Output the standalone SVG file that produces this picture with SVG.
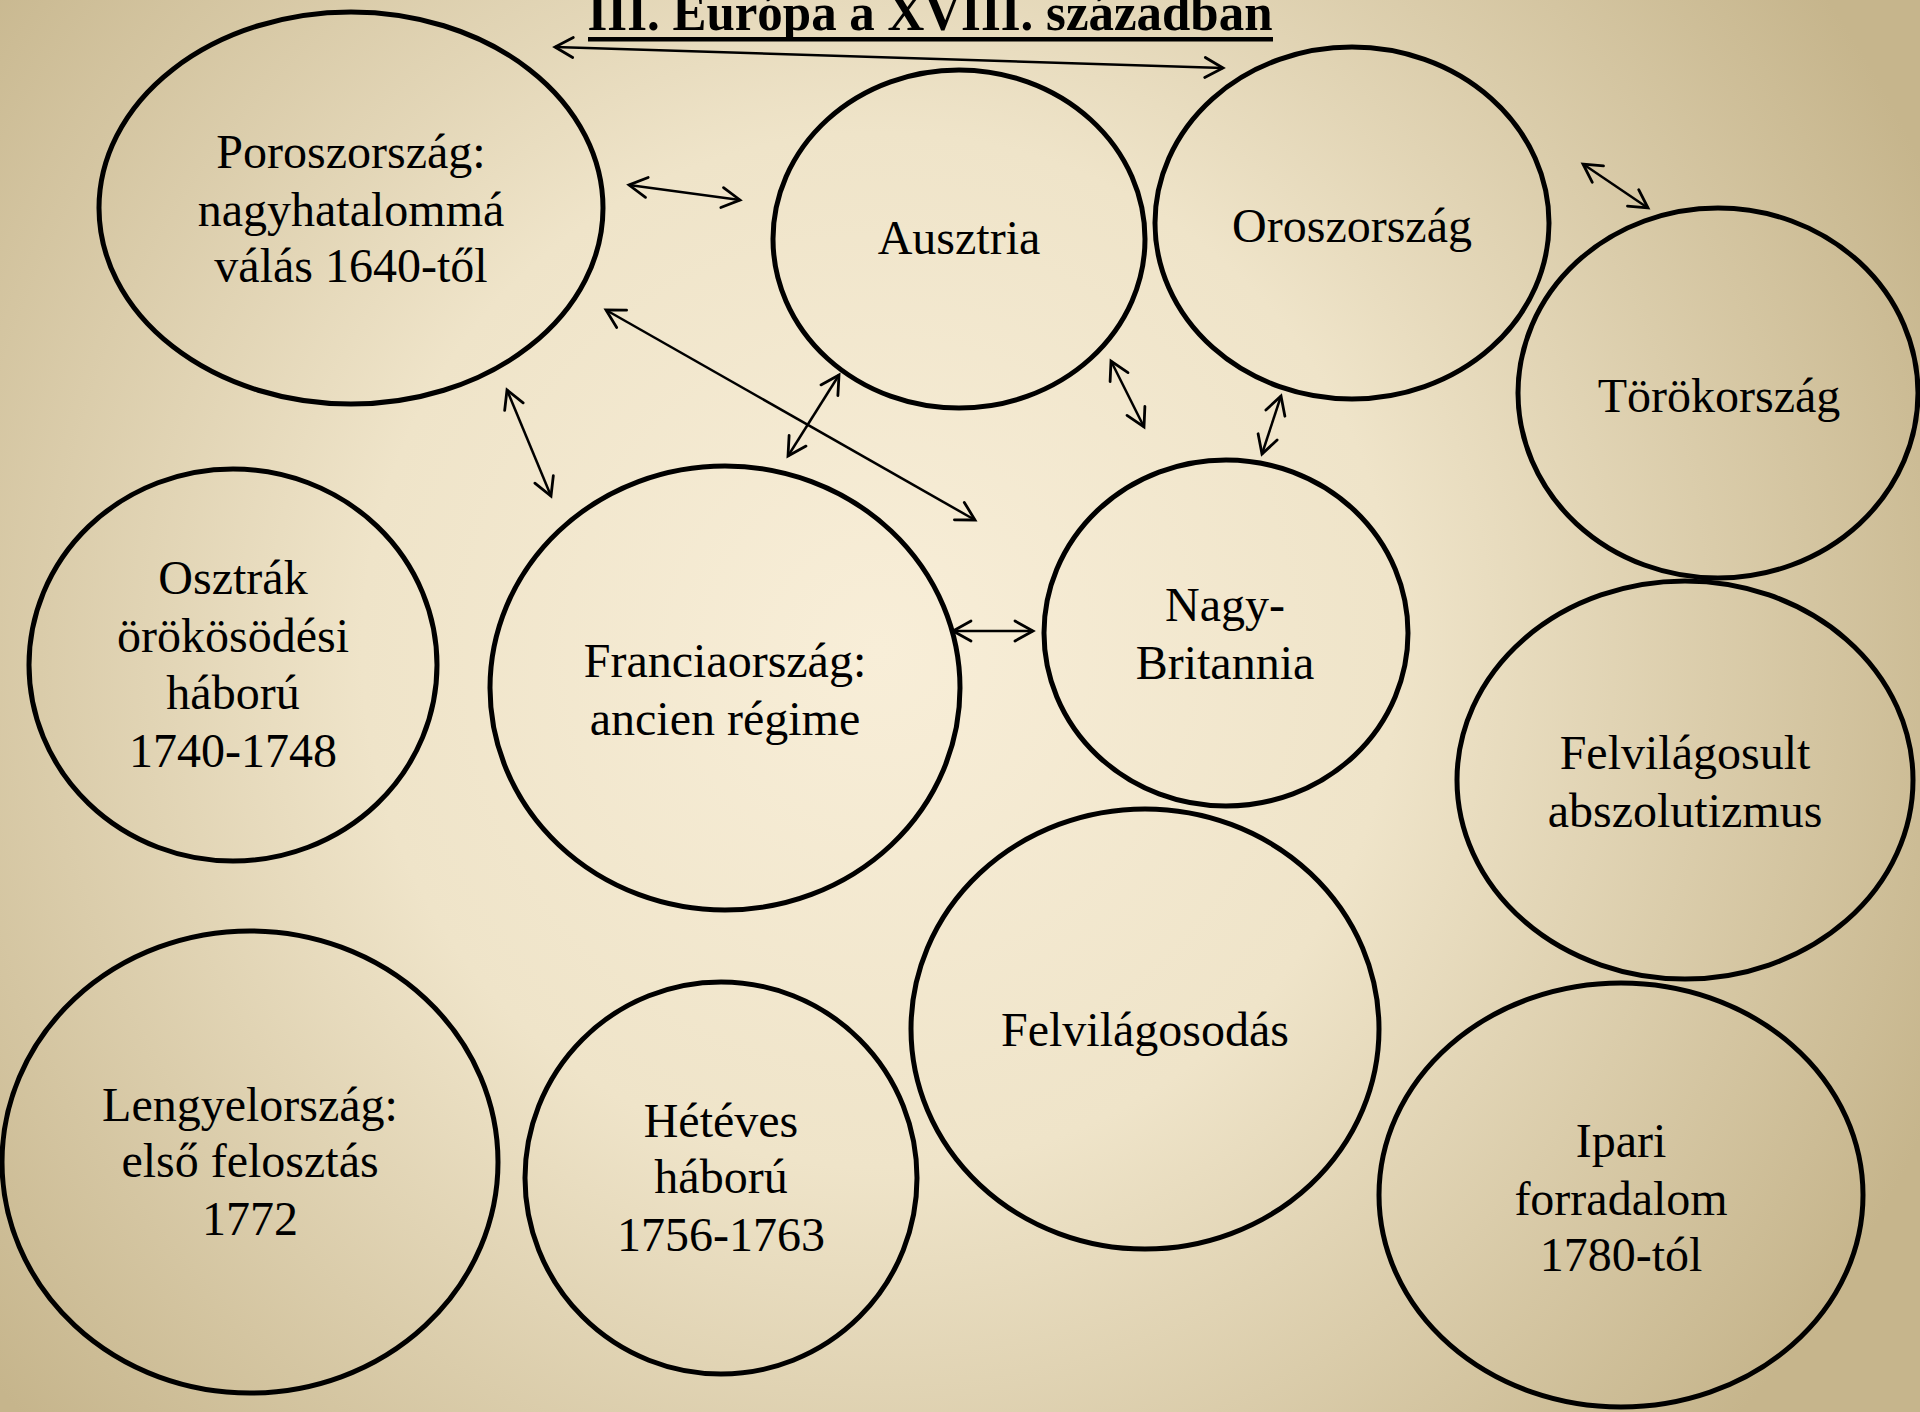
<svg xmlns="http://www.w3.org/2000/svg" width="1920" height="1412" viewBox="0 0 1920 1412">
<defs>
<radialGradient id="bg" gradientUnits="userSpaceOnUse" cx="880" cy="650" r="1150">
<stop offset="0" stop-color="#f8eed8"/>
<stop offset="0.45" stop-color="#efe4c9"/>
<stop offset="1" stop-color="#c6b58c"/>
</radialGradient>
<marker id="ah" markerUnits="userSpaceOnUse" viewBox="-22 -12 24 24" markerWidth="24" markerHeight="24" refX="0" refY="0" orient="auto-start-reverse" overflow="visible">
<path d="M-18,-10 L0,0 L-18,10" fill="none" stroke="#000" stroke-width="2.8" stroke-linecap="round" stroke-linejoin="miter"/>
</marker>
<style>
.n{fill:none;stroke:#000;stroke-width:5}
.t{font-family:"Liberation Serif","Times New Roman",serif;font-size:48px;fill:#000;text-anchor:middle}
.c{stroke:#000;stroke-width:2.5;fill:none;marker-start:url(#ah);marker-end:url(#ah)}
</style>
</defs>
<rect x="0" y="0" width="1920" height="1412" fill="url(#bg)"/>
<g id="title">
<text x="930" y="30" font-family="Liberation Serif, Times New Roman, serif" font-size="52" font-weight="bold" text-anchor="middle" textLength="685" lengthAdjust="spacingAndGlyphs">III. Európa a XVIII. században</text>
<rect x="588" y="37" width="685" height="4.5" fill="#000"/>
</g>
<g id="connectors">
<line class="c" x1="555" y1="47" x2="1223" y2="68"/>
<line class="c" x1="629" y1="185" x2="740" y2="200"/>
<line class="c" x1="507" y1="390" x2="551" y2="496"/>
<line class="c" x1="606" y1="310" x2="975" y2="520"/>
<line class="c" x1="839" y1="375" x2="788" y2="456"/>
<line class="c" x1="1111" y1="361" x2="1144" y2="427"/>
<line class="c" x1="1281" y1="396" x2="1262" y2="454"/>
<line class="c" x1="1583" y1="164" x2="1648" y2="208"/>
<line class="c" x1="953" y1="631" x2="1033" y2="631"/>
</g>
<g id="poroszorszag">
<ellipse class="n" cx="351" cy="208" rx="252" ry="196"/>
<text class="t" x="351" y="168">Poroszország:</text>
<text class="t" x="351" y="226">nagyhatalommá</text>
<text class="t" x="351" y="282">válás 1640-től</text>
</g>
<g id="ausztria">
<ellipse class="n" cx="959" cy="239" rx="186" ry="169"/>
<text class="t" x="959" y="254">Ausztria</text>
</g>
<g id="oroszorszag">
<ellipse class="n" cx="1352" cy="223" rx="197" ry="176"/>
<text class="t" x="1352" y="242">Oroszország</text>
</g>
<g id="torokorszag">
<ellipse class="n" cx="1718" cy="393" rx="200" ry="185"/>
<text class="t" x="1719" y="412">Törökország</text>
</g>
<g id="osztrak">
<ellipse class="n" cx="233" cy="665" rx="204" ry="196"/>
<text class="t" x="233" y="594">Osztrák</text>
<text class="t" x="233" y="652">örökösödési</text>
<text class="t" x="233" y="709">háború</text>
<text class="t" x="233" y="767">1740-1748</text>
</g>
<g id="franciaorszag">
<ellipse class="n" cx="725" cy="688" rx="235" ry="222"/>
<text class="t" x="725" y="677">Franciaország:</text>
<text class="t" x="725" y="735">ancien régime</text>
</g>
<g id="nagybritannia">
<ellipse class="n" cx="1226" cy="633" rx="182" ry="173"/>
<text class="t" x="1225" y="621">Nagy-</text>
<text class="t" x="1225" y="679">Britannia</text>
</g>
<g id="felvilagosult">
<ellipse class="n" cx="1685" cy="780" rx="228" ry="199"/>
<text class="t" x="1685" y="769">Felvilágosult</text>
<text class="t" x="1685" y="827">abszolutizmus</text>
</g>
<g id="felvilagosodas">
<ellipse class="n" cx="1145" cy="1029" rx="234" ry="220"/>
<text class="t" x="1145" y="1046">Felvilágosodás</text>
</g>
<g id="lengyelorszag">
<ellipse class="n" cx="250" cy="1162" rx="248" ry="231"/>
<text class="t" x="250" y="1121">Lengyelország:</text>
<text class="t" x="250" y="1177">első felosztás</text>
<text class="t" x="250" y="1235">1772</text>
</g>
<g id="heteves">
<ellipse class="n" cx="721" cy="1178" rx="196" ry="196"/>
<text class="t" x="721" y="1137">Hétéves</text>
<text class="t" x="721" y="1193">háború</text>
<text class="t" x="721" y="1251">1756-1763</text>
</g>
<g id="ipari">
<ellipse class="n" cx="1621" cy="1195" rx="242" ry="212"/>
<text class="t" x="1621" y="1157">Ipari</text>
<text class="t" x="1621" y="1215">forradalom</text>
<text class="t" x="1621" y="1271">1780-tól</text>
</g>
</svg>
